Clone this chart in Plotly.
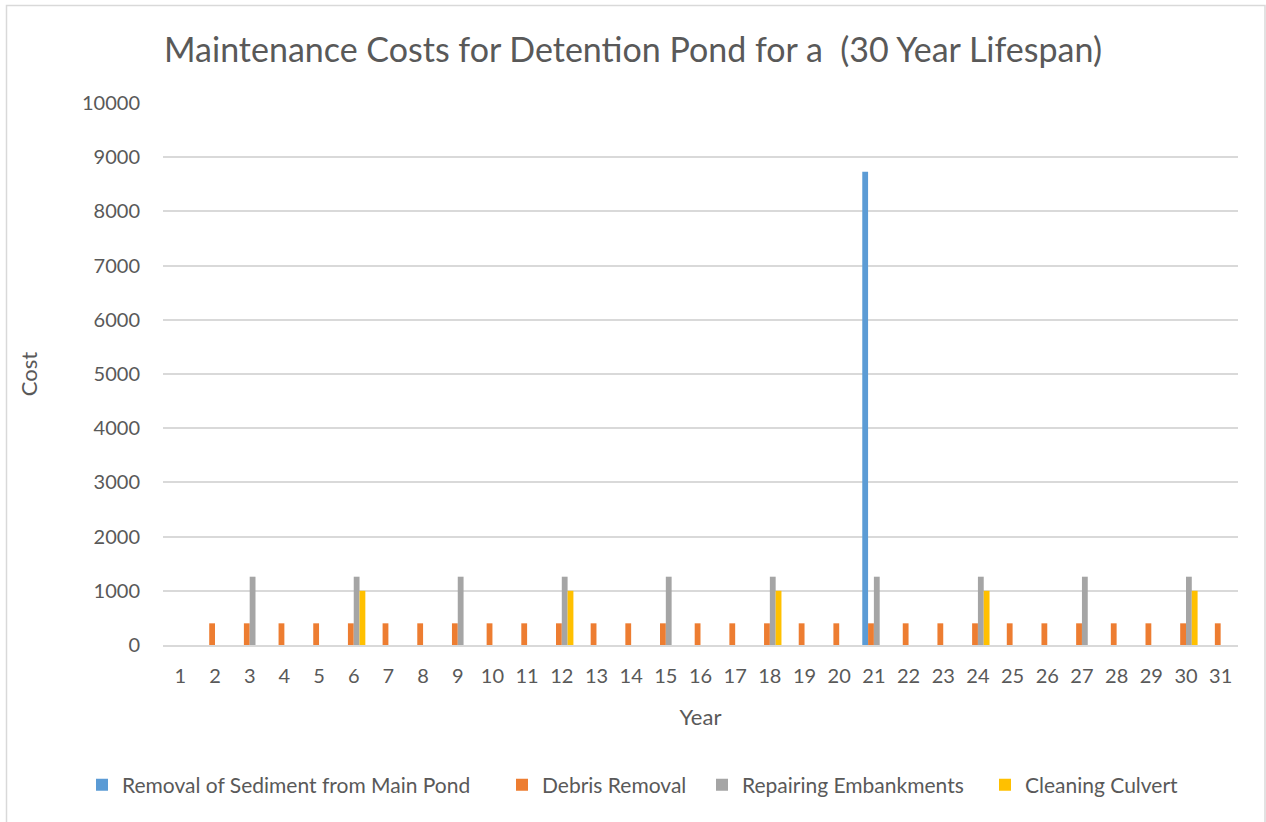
import plotly.graph_objects as go

# Years of the 30-year lifespan (1..31)
years = [str(y) for y in range(1, 32)]

# Costs per year for each maintenance activity
sediment_removal = [0] * 20 + [8730] + [0] * 10
debris_removal = [0] + [400] * 30
repairing_embankments = [1260 if (y % 3 == 0) else 0 for y in range(1, 32)]
cleaning_culvert = [1000 if (y % 6 == 0) else 0 for y in range(1, 32)]

series_names = [
    "Removal of Sediment from Main Pond",
    "Debris Removal",
    "Repairing Embankments",
    "Cleaning Culvert",
]
series_values = [sediment_removal, debris_removal, repairing_embankments, cleaning_culvert]
series_colors = ["#5b9bd5", "#ed7d31", "#a5a5a5", "#ffc000"]

FONT = "Lato, 'Open Sans', sans-serif"
TEXT = "#595959"
GRID = "#d9d9d9"

W, H = 1266, 822
L, R, T, B = 163, 28, 103, 177
pw, ph = W - L - R, H - T - B


def px_x(x):
    return (x - L) / pw


def px_y(y):
    return (H - B - y) / ph


# one legend box per series so the entries sit in a single spaced row
legend_ids = ["legend2", "legend3", "legend4", "legend5"]
legend_left_px = [82, 502, 702, 985]

fig = go.Figure()
for name, vals, col, lid in zip(series_names, series_values, series_colors, legend_ids):
    fig.add_trace(
        go.Bar(
            x=years,
            y=vals,
            name=name,
            legend=lid,
            marker=dict(color=col, line=dict(width=0)),
        )
    )

legend_style = dict(
    orientation="h",
    xref="container",
    yref="container",
    xanchor="left",
    yanchor="middle",
    y=1 - 785 / H,
    font=dict(size=21, color=TEXT),
    bgcolor="rgba(0,0,0,0)",
)
legends = {lid: dict(legend_style, x=xl / W) for lid, xl in zip(legend_ids, legend_left_px)}

fig.update_layout(
    width=W,
    height=H,
    margin=dict(l=L, r=R, t=T, b=B, autoexpand=False),
    paper_bgcolor="white",
    plot_bgcolor="white",
    barmode="group",
    bargap=0.33,
    bargroupgap=0.0,
    font=dict(family=FONT, color=TEXT),
    title=dict(
        text="Maintenance Costs for Detention Pond for a  (30 Year Lifespan)",
        x=0.5,
        xref="container",
        xanchor="center",
        y=1 - 50 / H,
        yref="container",
        yanchor="middle",
        font=dict(size=34, color=TEXT, family=FONT),
    ),
    xaxis=dict(
        type="category",
        automargin=False,
        showgrid=False,
        showline=True,
        linecolor=GRID,
        linewidth=1.5,
        ticks="outside",
        ticklen=12,
        tickcolor="rgba(0,0,0,0)",
        tickfont=dict(size=20, color=TEXT),
        title=dict(text="Year", font=dict(size=22, color=TEXT), standoff=24),
    ),
    yaxis=dict(
        automargin=False,
        range=[0, 10000],
        dtick=1000,
        tickformat="d",
        showgrid=True,
        gridcolor=GRID,
        gridwidth=1.5,
        zeroline=False,
        showline=False,
        ticks="outside",
        ticklen=18,
        tickcolor="rgba(0,0,0,0)",
        tickfont=dict(size=20, color=TEXT),
        title=dict(text="Cost", font=dict(size=22, color=TEXT), standoff=38),
    ),
    shapes=[
        dict(
            type="rect",
            xref="paper",
            yref="paper",
            x0=px_x(6.5),
            x1=px_x(1265),
            y0=px_y(835),
            y1=px_y(5.5),
            line=dict(color=GRID, width=1.5),
            fillcolor="rgba(0,0,0,0)",
            layer="below",
        )
    ],
    **legends,
)

fig.write_html("out.html")
